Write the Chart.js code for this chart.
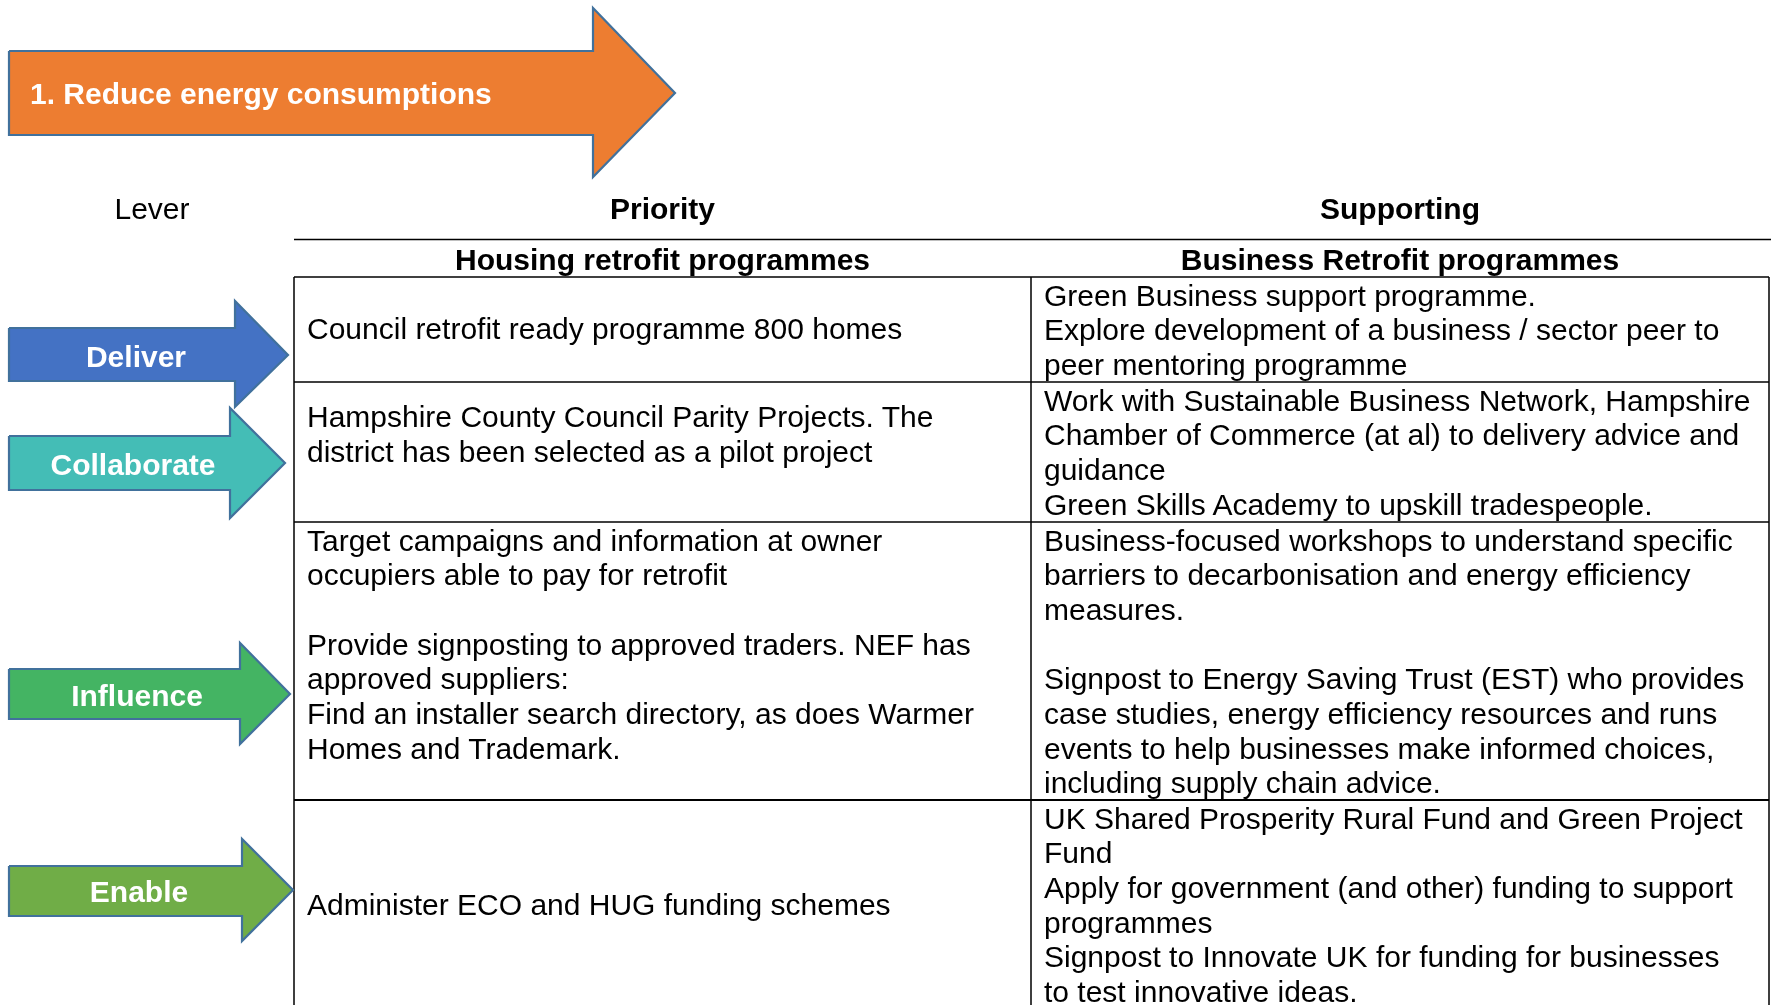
<!DOCTYPE html>
<html>
<head>
<meta charset="utf-8">
<script src="https://cdn.jsdelivr.net/npm/chart.js@4.4.1/dist/chart.umd.min.js"></script>
<style>
  html, body { margin: 0; padding: 0; background: #ffffff; overflow: hidden; }
  #wrap { position: relative; width: 1771px; height: 1005px; overflow: hidden; }
  #c { position: absolute; left: 0; top: 0; }
  .t { position: absolute; font-family: "Liberation Sans", Arial, sans-serif; font-size: 30px;
       line-height: 34.7px; color: #000; white-space: pre; }
  .b { font-weight: bold; }
  .w { color: #fff; font-weight: bold; }
  .cell { position: absolute; display: flex; flex-direction: column; box-sizing: border-box;
          font-family: "Liberation Sans", Arial, sans-serif; font-size: 30px; line-height: 34.7px;
          color: #000; white-space: pre; }
</style>
</head>
<body>
<div id="wrap">
  <canvas id="c" width="1771" height="1005"></canvas>
</div>
<script>
// ---------------- data ----------------
const title = '1. Reduce energy consumptions';
const headers = ['Lever', 'Priority', 'Supporting'];
const subHeaders = ['Housing retrofit programmes', 'Business Retrofit programmes'];
const levers = ['Deliver', 'Collaborate', 'Influence', 'Enable'];
const priorityItems = [
  ['Council retrofit ready programme 800 homes'],
  ['Hampshire County Council Parity Projects. The', 'district has been selected as a pilot project', ''],
  ['Target campaigns and information at owner', 'occupiers able to pay for retrofit', '',
   'Provide signposting to approved traders. NEF has', 'approved suppliers:',
   'Find an installer search directory, as does Warmer', 'Homes and Trademark.'],
  ['Administer ECO and HUG funding schemes']
];
const supportingItems = [
  ['Green Business support programme.', 'Explore development of a business / sector peer to', 'peer mentoring programme'],
  ['Work with Sustainable Business Network, Hampshire', 'Chamber of Commerce (at al) to delivery advice and', 'guidance', 'Green Skills Academy to upskill tradespeople.'],
  ['Business-focused workshops to understand specific', 'barriers to decarbonisation and energy efficiency', 'measures.', '',
   'Signpost to Energy Saving Trust (EST) who provides', 'case studies, energy efficiency resources and runs',
   'events to help businesses make informed choices,', 'including supply chain advice.'],
  ['UK Shared Prosperity Rural Fund and Green Project', 'Fund', 'Apply for government (and other) funding to support',
   'programmes', 'Signpost to Innovate UK for funding for businesses', 'to test innovative ideas.']
];

// ---------------- layout (geometry & styles) ----------------
const W = 1771, H = 1005;
const colX = [294, 1031, 1769];          // table left, separator, right
const rowY = [277, 382, 522, 800, 1010]; // row boundaries
const headerLineY = 239.5;
const priorityAlign = ['middle', 'middle', 'top', 'middle'];
// arrow: [left, shaftTop, shaftBottom, headBaseX, headTop, headBottom, tipX, tipY]
const titleArrow = [9, 51, 135, 593, 8, 177, 675, 93];
const leverArrows = [
  [9, 328, 381, 235, 301, 407, 288, 355],
  [9, 436, 490, 230, 408, 518, 285, 463],
  [9, 669, 719, 240, 643, 744, 290, 694],
  [9, 866, 916, 242, 839, 941, 293, 890]
];
const leverLabelX = [136, 133, 137, 139];
const titleColor = '#ED7D31';
const leverColors = ['#4472C4', '#44BDB6', '#44B463', '#70AD47'];
const outline = '#41719C';

function arrowPoints(a) {
  const [x0, st, sb, hb, ht, hbt, tx, ty] = a;
  return [
    {x: x0, y: st}, {x: hb, y: st}, {x: hb, y: ht}, {x: tx, y: ty},
    {x: hb, y: hbt}, {x: hb, y: sb}, {x: x0, y: sb}, {x: x0, y: st}
  ];
}
function arrowDataset(a, color) {
  return {
    data: arrowPoints(a), showLine: true, fill: 'shape', backgroundColor: color,
    borderColor: outline, borderWidth: 2.2, pointRadius: 0, tension: 0,
    borderJoinStyle: 'miter'
  };
}
function lineDataset(x1, y1, x2, y2, w) {
  return {
    data: [{x: x1, y: y1}, {x: x2, y: y2}], showLine: true, fill: false,
    borderColor: '#000', borderWidth: w || 1.5, pointRadius: 0, tension: 0
  };
}

const datasets = [];
datasets.push(arrowDataset(titleArrow, titleColor));
leverArrows.forEach((a, i) => datasets.push(arrowDataset(a, leverColors[i])));
// table lines
datasets.push(lineDataset(colX[0], headerLineY, W, headerLineY, 1.5));
datasets.push(lineDataset(colX[0], rowY[0], colX[2], rowY[0], 1.5));
for (let r = 1; r < rowY.length - 1; r++) {
  datasets.push(lineDataset(colX[0], rowY[r], colX[2], rowY[r], r === 3 ? 2.2 : 1.5));
}
colX.forEach(x => datasets.push(lineDataset(x, rowY[0], x, rowY[rowY.length - 1], 1.5)));

const chart = new Chart(document.getElementById('c'), {
  type: 'scatter',
  data: { datasets },
  options: {
    responsive: false, animation: false, events: [],
    layout: { padding: 0 },
    plugins: { legend: { display: false }, tooltip: { enabled: false } },
    scales: {
      x: { type: 'linear', min: 0, max: W, display: false },
      y: { type: 'linear', min: 0, max: H, reverse: true, display: false }
    }
  }
});

// ---------------- text overlays positioned via the chart scales ----------------
const wrap = document.getElementById('wrap');
const X = v => chart.scales.x.getPixelForValue(v);
const Y = v => chart.scales.y.getPixelForValue(v);

function addText(txt, cls, x, y, align) {
  const d = document.createElement('div');
  d.className = 't ' + (cls || '');
  d.textContent = txt;
  d.style.top = Y(y) + 'px';
  if (align === 'center') {
    d.style.left = (X(x) - 500) + 'px';
    d.style.width = '1000px';
    d.style.textAlign = 'center';
  } else {
    d.style.left = X(x) + 'px';
  }
  wrap.appendChild(d);
}

addText(title, 'w', 30, 76.5, 'left');
levers.forEach((l, i) => addText(l, 'w', leverLabelX[i], leverArrows[i][7] - 15, 'center'));
addText(headers[0], '', 152, 192, 'center');
addText(headers[1], 'b', (colX[0] + colX[1]) / 2, 192, 'center');
addText(headers[2], 'b', (colX[1] + colX[2]) / 2, 192, 'center');
addText(subHeaders[0], 'b', (colX[0] + colX[1]) / 2, 243, 'center');
addText(subHeaders[1], 'b', (colX[1] + colX[2]) / 2, 243, 'center');

function addCell(lines, c, r, align) {
  const d = document.createElement('div');
  d.className = 'cell';
  d.style.left = (X(colX[c]) + 13) + 'px';
  d.style.top = Y(rowY[r]) + 'px';
  d.style.height = (Y(rowY[r + 1]) - Y(rowY[r])) + 'px';
  d.style.justifyContent = align === 'middle' ? 'center' : 'flex-start';
  d.style.paddingTop = align === 'middle' ? '0px' : '1.5px';
  lines.forEach(s => {
    const ln = document.createElement('div');
    ln.textContent = s === '' ? '\u00a0' : s;
    d.appendChild(ln);
  });
  wrap.appendChild(d);
}
priorityItems.forEach((lines, r) => addCell(lines, 0, r, priorityAlign[r]));
supportingItems.forEach((lines, r) => addCell(lines, 1, r, 'top'));
</script>
</body>
</html>
